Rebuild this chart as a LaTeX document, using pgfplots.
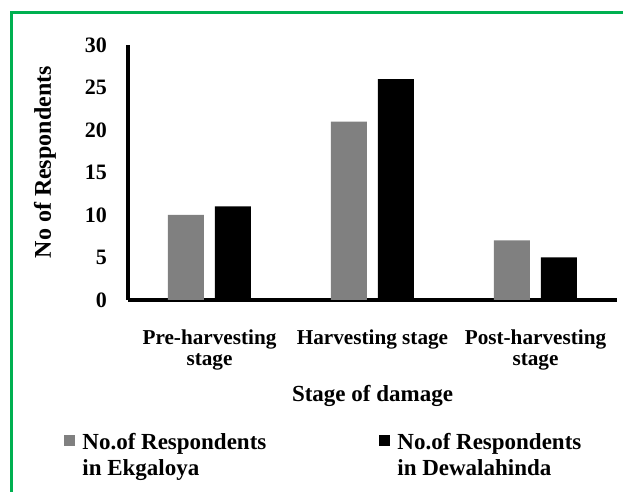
\documentclass[border=0pt]{standalone}
\usepackage{fontspec}
\setmainfont{Liberation Serif}
\usepackage{pgfplots}
\pgfplotsset{compat=1.18}
\definecolor{framegreen}{RGB}{0,176,80}
\definecolor{bargray}{RGB}{128,128,128}
\begin{document}
\begin{tikzpicture}
\useasboundingbox (-64pt,-96pt) rectangle (247.5pt,150pt);
\begin{axis}[
 scale only axis, width=244.5pt, height=127.5pt,
 at={(0,0)}, anchor=south west,
 ybar=5.5pt, bar width=18pt,
 xmin=-0.5, xmax=2.5, ymin=0, ymax=30,
 xtick={0,1,2},
 xticklabels={Pre-harvesting\\stage, Harvesting stage, Post-harvesting\\stage},
 ytick={0,5,...,30},
 major tick length=0pt,
 axis x line=bottom, axis y line=left,
 axis line style={-, line width=2pt, black},
 /pgf/number format/assume math mode=true,
 xticklabel style={font=\fontsize{10.6}{10.6}\selectfont\bfseries, align=center, yshift=-11.5pt},
 yticklabel style={font=\fontsize{11}{11}\selectfont\bfseries, xshift=-7pt},
 xlabel={Stage of damage}, ylabel={No of Respondents},
 xlabel style={font=\fontsize{11.5}{11.5}\selectfont\bfseries, at={(axis description cs:0.5,0)}, anchor=base, yshift=-51pt},
 ylabel style={font=\fontsize{12}{12}\selectfont\bfseries, at={(axis description cs:-0.1697,0.54)}, anchor=center},
 legend columns=2,
 legend cell align=left,
 legend style={at={(rel axis cs:0,0)}, anchor=north west, xshift=-32pt, yshift=-66.5pt,
   draw=none, fill=none, inner sep=0pt,
   font=\fontsize{11.5}{13}\selectfont\bfseries,
   nodes={inner sep=0pt, align=left},
   /tikz/every even column/.append style={column sep=56.5pt}},
 legend image code/.code={\fill[#1] (0pt,5pt) rectangle (5.5pt,10.5pt); \path (9pt,5pt);},
]
\addplot[fill=bargray, draw=none] coordinates {(0,10) (1,21) (2,7)};
\addplot[fill=black, draw=none] coordinates {(0,11) (1,26) (2,5)};
\legend{No.of Respondents\\in Ekgaloya, No.of Respondents\\in Dewalahinda}
\end{axis}
\draw[framegreen, line width=1.5pt] (-58.25pt,-96pt) -- (-58.25pt,143.75pt) -- (247.5pt,143.75pt);
\end{tikzpicture}
\end{document}
